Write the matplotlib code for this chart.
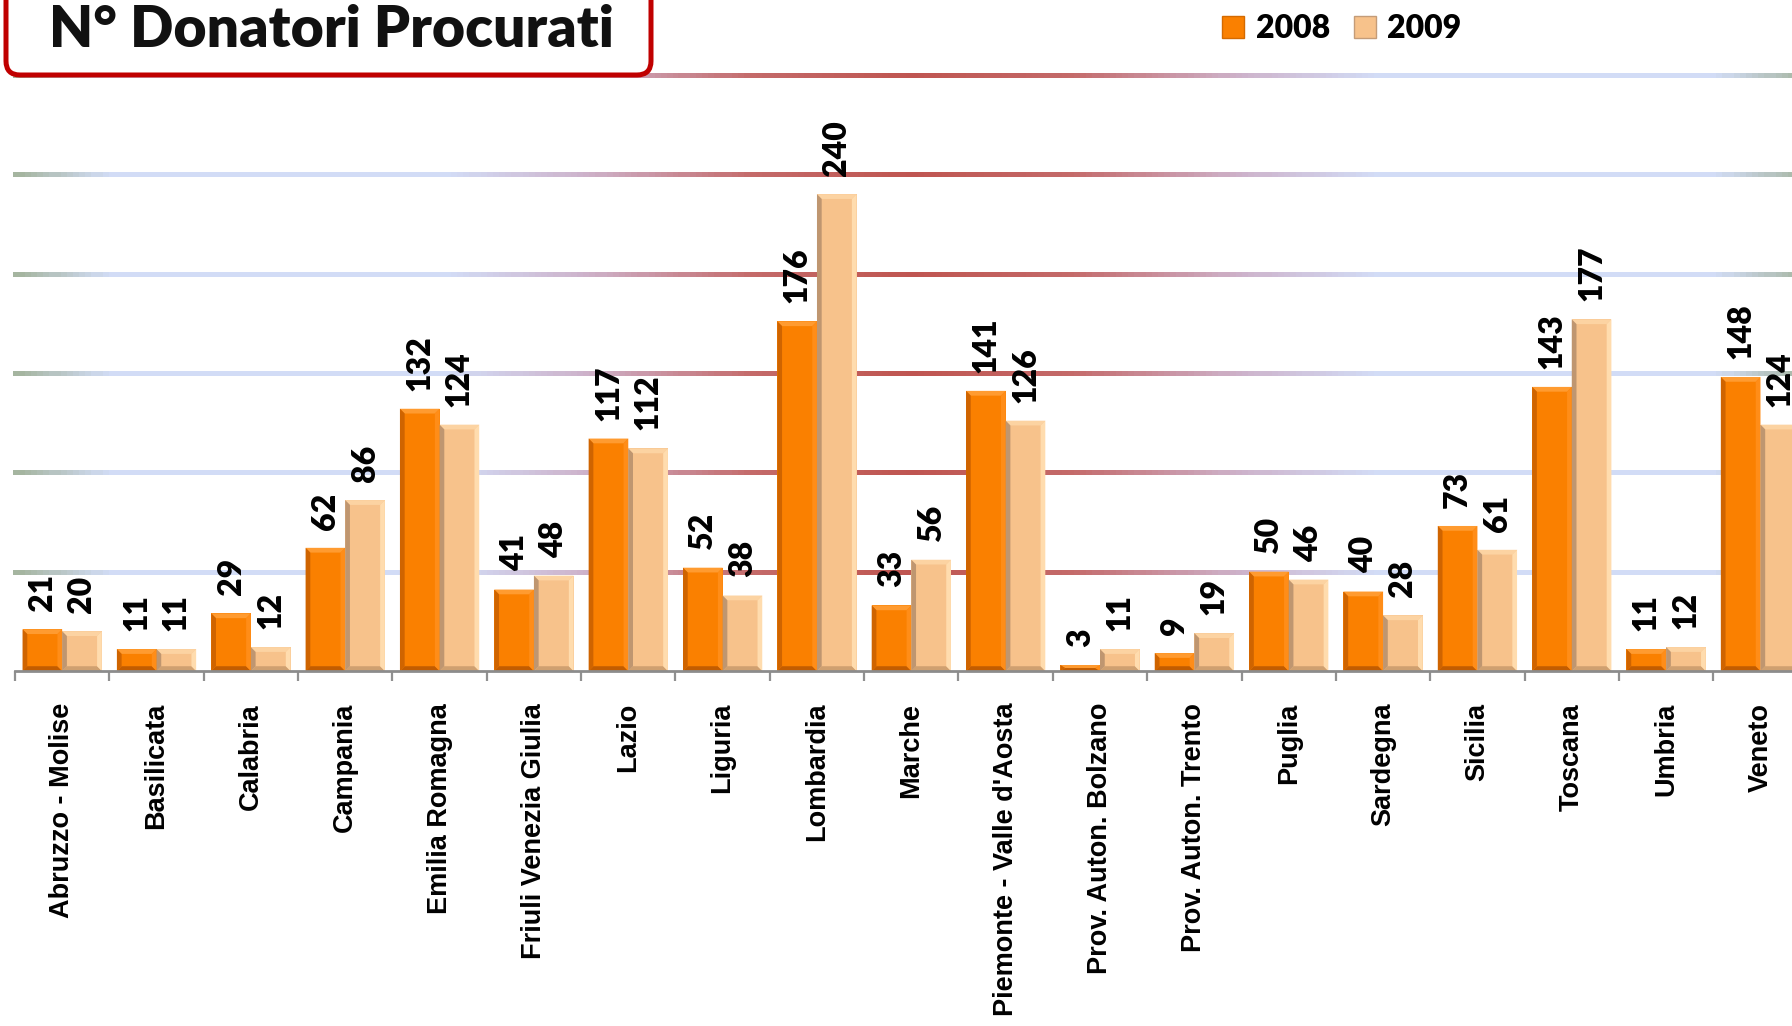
import numpy as np
import matplotlib
matplotlib.use('Agg')
import matplotlib.pyplot as plt
from matplotlib import font_manager
from matplotlib.collections import LineCollection
from matplotlib.colors import LinearSegmentedColormap
from matplotlib.patches import FancyBboxPatch
from matplotlib.lines import Line2D

# data
regions = ['Abruzzo - Molise', 'Basilicata', 'Calabria', 'Campania', 'Emilia Romagna',
           'Friuli Venezia Giulia', 'Lazio', 'Liguria', 'Lombardia', 'Marche',
           "Piemonte - Valle d'Aosta", 'Prov. Auton. Bolzano', 'Prov. Auton. Trento',
           'Puglia', 'Sardegna', 'Sicilia', 'Toscana', 'Umbria', 'Veneto']
donors_2008 = [21, 11, 29, 62, 132, 41, 117, 52, 176, 33, 141, 3, 9, 50, 40, 73, 143, 11, 148]
donors_2009 = [20, 11, 12, 86, 124, 48, 112, 38, 240, 56, 126, 11, 19, 46, 28, 61, 177, 12, 124]
years = ['2008', '2009']

# fonts: Lato stands in for Calibri, narrow Liberation for Arial Narrow
names = {f.name for f in font_manager.fontManager.ttflist}
if 'Liberation Sans Narrow' in names:
    tick_font, tick_size = 'Liberation Sans Narrow', 23.5
else:
    tick_font, tick_size = 'Liberation Sans', 19.5
head_font = 'Lato' if 'Lato' in names else 'DejaVu Sans'

W, H = 1792, 1026
fig = plt.figure(figsize=(W / 100, H / 100), dpi=100)
# axes runs slightly past the right edge, like the original screenshot
ax = fig.add_axes([15 / W, 1 - 671 / H, 19 * 94.35 / W, (671 - 75) / H])

x = np.arange(len(regions))
bw = 0.42
ax.set_xlim(-0.5, len(regions) - 0.5)
ax.set_ylim(0, 300)

# gradient grid lines
grid_cmap = LinearSegmentedColormap.from_list('grid', [
    (0.00, '#a5b5a0'), (0.05, '#d2dcf6'), (0.24, '#d2dcf6'), (0.32, '#cdb0c8'),
    (0.41, '#c46a6a'), (0.50, '#bf5550'), (0.59, '#c46a6a'), (0.68, '#cdb0c8'),
    (0.76, '#d2dcf6'), (0.95, '#d2dcf6'), (1.00, '#a5b5a0')])
xs = np.linspace(0, 1, 300)
trans = matplotlib.transforms.blended_transform_factory(ax.transAxes, ax.transData)
for level in np.arange(50, 301, 50):
    segs = [[(xs[i], level), (xs[i + 1], level)] for i in range(len(xs) - 1)]
    lc = LineCollection(segs, colors=grid_cmap(xs[:-1]), linewidths=2.3, capstyle='projecting',
                        antialiaseds=False, transform=trans, zorder=0, clip_on=False)
    ax.add_collection(lc)


def bevel_bar(x0, h, face, dark, light, side_dark, side_light):
    x1 = x0 + bw
    ax.bar(x0, h, bw, align='edge', color=face, zorder=2)
    dx = 0.05
    dy = min(2.4, h / 2)
    ax.fill([x0, x1, x1 - dx, x0 + dx], [0, 0, dy, dy], color=dark, lw=0, zorder=3)
    ax.fill([x0, x1, x1 - dx, x0 + dx], [h, h, h - dy, h - dy], color=light, lw=0, zorder=3)
    ax.fill([x0, x0 + dx, x0 + dx, x0], [0, dy, h - dy, h], color=side_dark, lw=0, zorder=3)
    ax.fill([x1, x1 - dx, x1 - dx, x1], [0, dy, h - dy, h], color=side_light, lw=0, zorder=3)


for i in range(len(regions)):
    bevel_bar(x[i] - bw, donors_2008[i], '#fa8000', '#c25c00', '#ff9b30', '#cf6400', '#ff8d18')
    bevel_bar(x[i], donors_2009[i], '#f7c28b', '#cfa070', '#fcd3a2', '#bf9670', '#ffdcae')

# value labels
for i in range(len(regions)):
    for off, v in [(-bw / 2, donors_2008[i]), (bw / 2, donors_2009[i])]:
        ax.annotate(str(v), (x[i] + off, v), xytext=(0, 13), textcoords='offset points',
                    rotation=90, ha='center', va='bottom', fontsize=23,
                    fontweight='heavy', family=head_font, color='black', zorder=5)

# axis styling
for s in ['left', 'right', 'top']:
    ax.spines[s].set_visible(False)
ax.spines['bottom'].set_color('#8c8c8c')
ax.spines['bottom'].set_linewidth(2)
ax.spines['bottom'].set_zorder(4)
ax.set_yticks([])
ax.set_xticks(x)
ax.set_xticklabels(regions, rotation=90, ha='center', va='top',
                   fontsize=tick_size, fontweight='bold', family=tick_font)
ax.set_xticks(np.arange(-0.5, len(regions), 1), minor=True)
ax.tick_params(axis='x', which='major', length=0, pad=23)
ax.tick_params(axis='x', which='minor', length=7.5, width=1.6, color='#909090', direction='out')
ax.set_facecolor('none')

# title box
box = FancyBboxPatch((6 / 100, (H - 75) / 100), 645 / 100, 1.2,
                     boxstyle='round,pad=0,rounding_size=0.14',
                     transform=fig.dpi_scale_trans, facecolor='white',
                     edgecolor='#c00000', linewidth=3.6, zorder=10, clip_on=False)
fig.add_artist(box)
fig.text(49 / W, 1 - 47 / H, 'N° Donatori Procurati', fontsize=41, fontweight='heavy',
         family=head_font, color='#111111', va='baseline', ha='left', zorder=11)

# legend
handles = [Line2D([], [], marker='s', linestyle='none', markersize=16,
                  markerfacecolor=c, markeredgecolor=e, markeredgewidth=1)
           for c, e in [('#fa8000', '#d46a00'), ('#f7c28b', '#c49c78')]]
leg = fig.legend(handles, years, loc='center left', bbox_to_anchor=(1222 / W, 1 - 29 / H),
                 ncol=2, frameon=False, handlelength=0.7, handletextpad=0.35,
                 columnspacing=0.75, borderaxespad=0, borderpad=0,
                 prop={'family': head_font, 'weight': 'heavy', 'size': 23})

fig.savefig('out.png', dpi=100)
